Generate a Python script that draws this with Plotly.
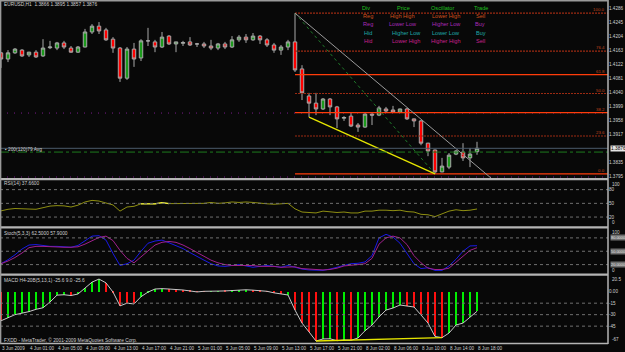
import plotly.graph_objects as go

# ---------------- data ----------------
bars = list(range(69))
tick_bars = list(range(0, 69, 4))
tick_text = ["3 Jun 2009", "4 Jun 01:00", "4 Jun 05:00", "4 Jun 09:00", "4 Jun 13:00",
             "4 Jun 17:00", "4 Jun 21:00", "5 Jun 01:00", "5 Jun 05:00", "5 Jun 09:00",
             "5 Jun 13:00", "5 Jun 17:00", "5 Jun 21:00", "8 Jun 02:00", "8 Jun 06:00",
             "8 Jun 10:00", "8 Jun 14:00", "8 Jun 18:00"]

opens = [1.4155, 1.4137, 1.4155, 1.4163, 1.4149, 1.4157, 1.4146, 1.4170, 1.4169, 1.4184,
         1.4169, 1.4157, 1.4172, 1.4216, 1.4233, 1.4222, 1.4195, 1.4169, 1.4081, 1.4166,
         1.4140, 1.4190, 1.4187, 1.4172, 1.4204, 1.4181, 1.4183, 1.4187, 1.4181, 1.4181,
         1.4175, 1.4169, 1.4181, 1.4172, 1.4193, 1.4201, 1.4193, 1.4204, 1.4193, 1.4178,
         1.4163, 1.4172, 1.4187, 1.4108, 1.4029, 1.4008, 1.3991, 1.4020, 1.3997, 1.3964,
         1.3970, 1.3944, 1.3938, 1.3976, 1.3973, 1.3991, 1.3988, 1.3982, 1.3991, 1.3962,
         1.3956, 1.3891, 1.3871, 1.3807, 1.3821, 1.3859, 1.3865, 1.3848, 1.3866]
highs = [1.4157, 1.4163, 1.4169, 1.4166, 1.4158, 1.4163, 1.4195, 1.4190, 1.4187, 1.4190,
         1.4175, 1.4175, 1.4225, 1.4239, 1.4245, 1.4228, 1.4201, 1.4172, 1.4172, 1.4184,
         1.4195, 1.4228, 1.4193, 1.4216, 1.4207, 1.4187, 1.4190, 1.4201, 1.4184, 1.4187,
         1.4193, 1.4184, 1.4187, 1.4204, 1.4207, 1.4210, 1.4213, 1.4207, 1.4198, 1.4184,
         1.4178, 1.4193, 1.4271, 1.4119, 1.4038, 1.4038, 1.4023, 1.4023, 1.4000, 1.3970,
         1.3979, 1.3950, 1.3979, 1.3979, 1.4000, 1.3997, 1.4000, 1.3992, 1.3994, 1.3963,
         1.3959, 1.3892, 1.3872, 1.3848, 1.3862, 1.3871, 1.3891, 1.3877, 1.3895]
lows = [1.4111, 1.4128, 1.4152, 1.4143, 1.4143, 1.4140, 1.4143, 1.4166, 1.4163, 1.4166,
        1.4155, 1.4155, 1.4171, 1.4210, 1.4210, 1.4190, 1.4155, 1.4070, 1.4076, 1.4114,
        1.4131, 1.4175, 1.4157, 1.4169, 1.4178, 1.4157, 1.4175, 1.4175, 1.4172, 1.4169,
        1.4163, 1.4163, 1.4166, 1.4169, 1.4187, 1.4184, 1.4190, 1.4181, 1.4172, 1.4155,
        1.4149, 1.4163, 1.4099, 1.4017, 1.3967, 1.3973, 1.3988, 1.3973, 1.3935, 1.3956,
        1.3938, 1.3924, 1.3936, 1.3944, 1.3970, 1.3982, 1.3981, 1.3979, 1.3959, 1.3938,
        1.3885, 1.3853, 1.3801, 1.3806, 1.3815, 1.3856, 1.3839, 1.3821, 1.3857]
closes = [1.4137, 1.4155, 1.4166, 1.4146, 1.4157, 1.4143, 1.4169, 1.4172, 1.4184, 1.4172,
          1.4157, 1.4172, 1.4216, 1.4233, 1.4219, 1.4193, 1.4169, 1.4081, 1.4166, 1.4137,
          1.4190, 1.4190, 1.4172, 1.4201, 1.4181, 1.4187, 1.4185, 1.4178, 1.4181, 1.4175,
          1.4169, 1.4181, 1.4172, 1.4193, 1.4201, 1.4193, 1.4204, 1.4193, 1.4178, 1.4163,
          1.4172, 1.4187, 1.4105, 1.4038, 1.4008, 1.3991, 1.4020, 1.3997, 1.3962, 1.3966,
          1.3941, 1.3938, 1.3976, 1.3973, 1.3994, 1.3985, 1.3982, 1.3991, 1.3962, 1.3956,
          1.3891, 1.3868, 1.3807, 1.3824, 1.3856, 1.3868, 1.3848, 1.3859, 1.3876]

rsi = [33.5, 37, 38.7, 38.5, 38.7, 37, 40.5, 44, 45, 44.5, 42, 46, 53, 56.5, 55, 51, 46.5, 33,
       42, 43.5, 49, 49.5, 49, 51.5, 49.5, 49.5, 49.3, 49.3, 49.3,
       50, 52, 50, 51, 53, 52, 53, 52, 50, 49, 48, 49, 50,
       38, 31, 30, 29, 33, 32, 30, 31, 29, 29, 33, 33, 35, 35, 34, 35, 32, 31, 26, 25, 21,
       27, 33, 36, 34, 35, 37.66]
stoch_k = [22, 31, 42, 55, 64, 65, 63, 61, 61, 60, 59, 63, 74, 84, 85, 75, 45, 18, 22, 30,
           50, 68, 73, 75, 69, 63, 56, 47, 38,
           30, 22, 17, 16, 18, 20, 17, 14, 16, 18, 16, 14, 18, 14, 10, 8, 7, 7, 10, 14,
           18, 22, 23, 26, 40, 80, 88, 82, 68, 45, 22, 11, 13, 7, 7, 17, 32, 50, 62, 62.5]
stoch_d = [22, 28, 36, 46, 58, 61, 61, 60, 59, 59, 59, 60, 66, 74, 81, 84, 74, 52, 34, 24,
           37, 52, 64, 70, 72, 70, 64, 56, 47,
           38, 30, 24, 20, 18, 18, 19, 18, 16, 16, 16, 14, 14, 15, 11, 10, 8, 8, 9, 12,
           17, 18, 20, 22, 34, 66, 80, 84, 80, 65, 40, 24, 12, 9, 9, 12, 25, 40, 52, 57.9]
macd = [-38, -34, -30, -28, -26, -23, -21, -13.5, -4.5, -4, -5, -3, 5, 12.5, 16.5, 11.5,
        -0.5, -18.5, -15, -16, -6.5, -0.5, 3.5, 4, 3.5, 3, 2.2, 1, -0.3,
        0.5, 0.3, 0.8, 1, 1.5, 2, 2.5, 2, 1.5, 0.5, -1.5, -2.5, -4.3,
        -24, -41, -52.5, -64.4, -61.7, -61.5, -64, -63, -63.5, -60.4, -51, -43.5, -33, -24,
        -21.3, -17.4, -18.7, -20, -30.4, -41, -58.5, -60, -54, -43.5, -41, -33, -25.6]
macd_dir = "RGGGGGGGGG" "RGGGGRRRRR" "GGGGRRRRRR" "GGRGGGRRRR" "RGRRRRGGRG" "RGGGGGGGRR" "RRRRGGGGG"

fib_high_bar, fib_low_bar = 42, 62
fib_ratios = [100.0, 76.4, 61.8, 50.0, 38.2, 23.6, 0.0]
fib_labels = ["100.0", "76.4", "61.8", "50.0", "38.2", "23.6", "0.0"]
fib_solid = [False, False, True, False, True, False, True]

trend_x = [42, 70]
trend_y = [1.4271, 1.3789]
price_div_x = [44, 62]
macd_div_x = [45, 63]
rsi_bright = (20, 24)
avg_level = 1.3865
marker_rows = [1.3979, 1.3792]

price_ticks = [1.4286, 1.4245, 1.4204, 1.4163, 1.4122, 1.4081, 1.4040, 1.3999, 1.3958,
               1.3917, 1.3835, 1.3795]
rsi_levels = [80, 50, 20]
stoch_levels = [80, 50, 20]
macd_levels = [-15, -30, -45]
macd_ticks = [0, -15, -30, -45]
macd_tick_text = ["0.00", "-15", "-30", "-45"]

# ---------------- layout geometry ----------------
W, H = 625, 352
ML, MR, MT, MB = 0, 17, 0, 8
PW, PH = W - ML - MR, H - MT - MB


def fy(ypx):
    return 1 - ypx / PH


def fx(xpx):
    return xpx / PW


BG = "#080808"
GRAY = "#b4b4b4"
TXT = "#d0d0d0"
FONT = "Liberation Sans"
XR = [-1 / 7, (PW - 1) / 7]

dom_main = [fy(178), fy(3)]
dom_rsi = [fy(226.2), fy(180.5)]
dom_sto = [fy(273.5), fy(229)]
dom_macd = [fy(343), fy(276)]

fig = go.Figure()

# main pane -------------------------------------------------------------
for p in marker_rows:
    fig.add_trace(go.Scatter(x=XR, y=[p, p], mode="lines",
                             line=dict(color="#7a1c8c", width=1, dash="1px,6px"),
                             xaxis="x", yaxis="y", hoverinfo="skip"))

fh, fl = highs[fib_high_bar], lows[fib_low_bar]
for r, lab, solid in zip(fib_ratios, fib_labels, fib_solid):
    lvl = fl + (fh - fl) * r / 100.0
    fig.add_trace(go.Scatter(
        x=[fib_high_bar, XR[1]], y=[lvl, lvl], mode="lines",
        line=dict(color="#ff3c0a" if solid else "#9c2a12", width=1.2 if solid else 1.1,
                  dash="solid" if solid else "2px,1px"),
        xaxis="x", yaxis="y", hoverinfo="skip"))

fig.add_trace(go.Candlestick(
    x=bars, open=opens, high=highs, low=lows, close=closes,
    increasing=dict(line=dict(color="#a8a8a8", width=1), fillcolor="#1c9a1c"),
    decreasing=dict(line=dict(color="#a8a8a8", width=1), fillcolor="#ff0000"),
    whiskerwidth=0, xaxis="x", yaxis="y", hoverinfo="skip"))

fig.add_trace(go.Scatter(x=[fib_high_bar, fib_low_bar], y=[fh, fl], mode="lines",
                         line=dict(color="#1f7a2a", width=1, dash="dot"),
                         xaxis="x", yaxis="y", hoverinfo="skip"))
fig.add_trace(go.Scatter(x=trend_x, y=trend_y, mode="lines",
                         line=dict(color="#9a9a9a", width=1),
                         xaxis="x", yaxis="y", hoverinfo="skip"))
fig.add_trace(go.Scatter(x=price_div_x, y=[lows[price_div_x[0]], lows[price_div_x[1]]],
                         mode="lines", line=dict(color="#e6e600", width=1.3),
                         xaxis="x", yaxis="y", hoverinfo="skip"))

# RSI ---------------------------------------------------------------------
fig.add_trace(go.Scatter(x=bars, y=rsi, mode="lines", line=dict(color="#8f8f12", width=1),
                         xaxis="x", yaxis="y2", hoverinfo="skip"))
a, b = rsi_bright
fig.add_trace(go.Scatter(x=bars[a:b + 1], y=rsi[a:b + 1], mode="lines",
                         line=dict(color="#f0f040", width=1.2),
                         xaxis="x", yaxis="y2", hoverinfo="skip"))

# Stochastic --------------------------------------------------------------
fig.add_trace(go.Scatter(x=bars, y=stoch_k, mode="lines", line=dict(color="#1a1ae6", width=1),
                         xaxis="x", yaxis="y3", hoverinfo="skip"))
fig.add_trace(go.Scatter(x=bars, y=stoch_d, mode="lines", line=dict(color="#a0208c", width=1),
                         xaxis="x", yaxis="y3", hoverinfo="skip"))

# MACD --------------------------------------------------------------------
fig.add_trace(go.Bar(x=bars, y=macd, width=0.25,
                     marker=dict(color=["#00ee00" if c == "G" else "#ff1010" for c in macd_dir],
                                 line=dict(width=0)),
                     xaxis="x", yaxis="y4", hoverinfo="skip"))
fig.add_trace(go.Scatter(x=bars, y=macd, mode="lines", line=dict(color="#c8c8c8", width=1),
                         xaxis="x", yaxis="y4", hoverinfo="skip"))
fig.add_trace(go.Scatter(x=macd_div_x, y=[macd[macd_div_x[0]], macd[macd_div_x[1]]],
                         mode="lines", line=dict(color="#e6e600", width=1.3),
                         xaxis="x", yaxis="y4", hoverinfo="skip"))

# ---------------- shapes ----------------
shapes = []
shapes.append(dict(type="line", xref="paper", x0=0, x1=1, yref="y", y0=closes[-1], y1=closes[-1],
                   line=dict(color="#4c5c6c", width=1)))
shapes.append(dict(type="line", xref="paper", x0=0, x1=1, yref="y", y0=avg_level, y1=avg_level,
                   line=dict(color="#1e7a1e", width=1, dash="dashdot")))
for lv in rsi_levels:
    shapes.append(dict(type="line", xref="paper", x0=0, x1=1, yref="y2", y0=lv, y1=lv,
                       line=dict(color="#707070", width=1, dash="dot")))
for lv in stoch_levels:
    shapes.append(dict(type="line", xref="paper", x0=0, x1=1, yref="y3", y0=lv, y1=lv,
                       line=dict(color="#707070", width=1, dash="dot")))
for lv in macd_levels:
    shapes.append(dict(type="line", xref="paper", x0=0, x1=1, yref="y4", y0=lv, y1=lv,
                       line=dict(color="#707070", width=1, dash="dot")))
for y0, y1 in [(178, 180.3), (226.3, 228.6), (273.6, 275.8)]:
    shapes.append(dict(type="rect", xref="paper", yref="paper", x0=0, x1=1,
                       y0=fy(y1), y1=fy(y0), fillcolor=GRAY, line=dict(width=0)))
shapes.append(dict(type="line", xref="paper", yref="paper", x0=1, x1=1, y0=0, y1=1,
                   line=dict(color=GRAY, width=1.5)))
shapes.append(dict(type="line", xref="paper", yref="paper", x0=0, x1=1, y0=fy(343.5), y1=fy(343.5),
                   line=dict(color=GRAY, width=1.5)))
shapes.append(dict(type="line", xref="paper", yref="paper", x0=0, x1=1, y0=fy(0.8), y1=fy(0.8),
                   line=dict(color="#9a9a9a", width=1.5)))
shapes.append(dict(type="line", xref="paper", yref="paper", x0=fx(0.6), x1=fx(0.6), y0=0, y1=1,
                   line=dict(color="#9a9a9a", width=1.5)))

# ---------------- annotations ----------------
ann = []


def text(x, y, s, color=TXT, size=4.8, xanchor="left", yanchor="middle", **kw):
    d = dict(x=x, y=y, text=s, showarrow=False, xanchor=xanchor, yanchor=yanchor,
             font=dict(family=FONT, size=size, color=color), borderpad=0)
    d.update(kw)
    ann.append(d)


text(fx(3), fy(4.5), "EURUSD,H1  %.4f %.4f %.4f %.4f" % (opens[-1], highs[-1], lows[-1], closes[-1]),
     xref="paper", yref="paper")
text(fx(4), fy(149), "\u25aa 200(120)79 Avg", xref="paper", yref="paper")
text(fx(3), fy(183.5), "RSI(14) %.4f" % rsi[-1], xref="paper", yref="paper")
text(fx(3), fy(233.5), "Stoch(5,3,3) %.4f %.4f" % (stoch_k[-1], stoch_d[-1]), xref="paper", yref="paper")
text(fx(3), fy(280.5), "MACD H4-20B(5,13,1) %.1f 9.0 %.1f" % (macd[-1], macd[-1]), xref="paper", yref="paper")
text(fx(3), fy(340), "FXDD - MetaTrader, \u00a9 2001-2009 MetaQuotes Software Corp.",
     xref="paper", yref="paper")

leg_rows = [
    (["Div", "Price", "Oscillator", "Trade"], "#1fc01f", [361, 396, 430, 473]),
    (["Reg", "High High", "Lower High", "Sell"], "#d0501c", [362, 389, 431, 475]),
    (["Reg", "Lower Low", "Higher Low", "Buy"], "#a82ab8", [362, 388, 431, 474]),
    (["Hid", "Higher Low", "Lower Low", "Buy"], "#1fa8a8", [363, 391, 431, 475]),
    (["Hid", "Lower High", "Higher High", "Sell"], "#c8208e", [363, 391, 430, 475]),
]
for (cells, col, xs), ypx in zip(leg_rows, [8, 16, 24, 32.5, 41]):
    for c, xp in zip(cells, xs):
        text(fx(xp), fy(ypx), c, color=col, size=5.6, xref="paper", yref="paper")

for r, lab in zip(fib_ratios, fib_labels):
    lvl = fl + (fh - fl) * r / 100.0
    text(fx(606), lvl, lab, color="#c0441c", size=4.4, xanchor="right", yanchor="bottom",
         xref="paper", yref="y")

text(1.0 + fx(2), closes[-1], "%.4f" % closes[-1], color="#000000", size=4.8,
     xref="paper", yref="y", bgcolor="#e4e4e4")
text(1.0 + fx(3), 100, "100", size=4.6, yanchor="top", xref="paper", yref="y2")
text(1.0 + fx(3), 0, "0", size=4.6, yanchor="bottom", xref="paper", yref="y2")
text(1.0 + fx(3), 100, "100", size=4.6, yanchor="top", xref="paper", yref="y3")
text(1.0 + fx(3), 0, "0", size=4.6, yanchor="bottom", xref="paper", yref="y3")
for lv in stoch_levels:
    text(1.0 + fx(1.5), lv, "%.4f" % lv, color="#e8e8e8", size=3.9, xref="paper", yref="y3",
         bgcolor="#6e6e6e")
text(1.0 + fx(3), 20.5, "20.5", size=4.6, yanchor="top", xref="paper", yref="y4")
text(1.0 + fx(3), -67, "-67", size=4.6, yanchor="bottom", xref="paper", yref="y4")

for tb, tt in zip(tick_bars, tick_text):
    text(tb, fy(348), tt, size=4.6, xref="x", yref="paper")

axis_common = dict(showgrid=False, zeroline=False, side="right", anchor="x",
                   tickfont=dict(family=FONT, size=4.6, color=TXT), ticks="",
                   showline=False, fixedrange=True)

fig.update_layout(
    width=W, height=H, margin=dict(l=ML, r=MR, t=MT, b=MB),
    paper_bgcolor=BG, plot_bgcolor=BG, showlegend=False, bargap=0,
    xaxis=dict(range=XR, showgrid=False, zeroline=False, showticklabels=False,
               rangeslider=dict(visible=False), anchor="y4", showline=False, ticks=""),
    yaxis=dict(domain=dom_main, range=[1.37892, 1.43007], tickvals=price_ticks,
               ticktext=["%.4f" % v for v in price_ticks], **axis_common),
    yaxis2=dict(domain=dom_rsi, range=[0, 100], tickvals=rsi_levels,
                ticktext=[str(v) for v in rsi_levels], **axis_common),
    yaxis3=dict(domain=dom_sto, range=[0, 100], tickvals=[], **axis_common),
    yaxis4=dict(domain=dom_macd, range=[-67, 20.5], tickvals=macd_ticks,
                ticktext=macd_tick_text, **axis_common),
    shapes=shapes, annotations=ann,
)

fig.write_html("out.html")
